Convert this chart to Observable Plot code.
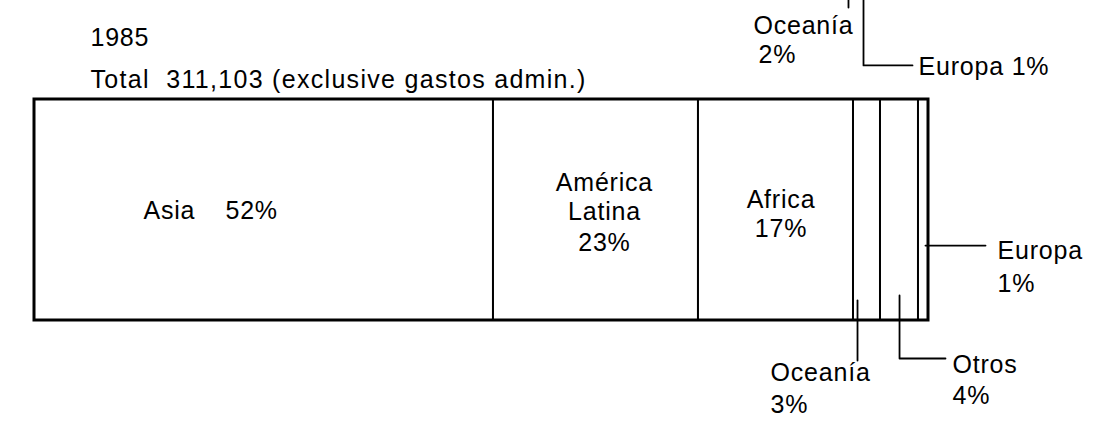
<!DOCTYPE html>
<html><head><meta charset="utf-8">
<script src="https://cdn.jsdelivr.net/npm/d3@7"></script>
<script src="https://cdn.jsdelivr.net/npm/@observablehq/plot@0.6"></script>
<style>html,body{margin:0;padding:0;background:#fff}</style>
</head><body><div id="chart"></div>
<script>
// ---- data ----
const year = "1985";
const totalLine = "Total\u00a0 311,103 (exclusive gastos admin.)";
const regions = ["Asia", "América Latina", "Africa", "Oceanía", "Otros", "Europa"];
const shares = [51.34, 22.93, 17.34, 3.02, 4.25, 1.12]; // share of bar width (%)
const pctLabels = ["52%", "23%", "17%", "3%", "4%", "1%"];
// labels from the (cut-off) chart above
const aboveLabels = ["Oceanía", "2%", "Europa 1%"];

const table = regions.map((r, i) => ({region: r, share: shares[i], pct: pctLabels[i]}));

// ---- annotation layout (in scale units: x = % of bar, y = 0 bottom .. 1 top of bar) ----
const texts = [
  {t: year, x: 6.26, y: 1.244, a: "start"},
  {t: totalLine, x: 6.26, y: 1.054, a: "start"},
  {t: regions[0], x: 12.19, y: 0.4615, a: "start"},
  {t: pctLabels[0], x: 21.36, y: 0.4615, a: "start"},
  {t: "América", x: 63.75, y: 0.588, a: "middle"},
  {t: "Latina", x: 63.75, y: 0.4525, a: "middle"},
  {t: pctLabels[1], x: 63.75, y: 0.3167, a: "middle"},
  {t: regions[2], x: 83.5, y: 0.511, a: "middle"},
  {t: pctLabels[2], x: 83.5, y: 0.3756, a: "middle"},
  {t: regions[3], x: 82.33, y: -0.2715, a: "start"},
  {t: pctLabels[3], x: 82.33, y: -0.4208, a: "start"},
  {t: regions[4], x: 102.68, y: -0.2353, a: "start"},
  {t: pctLabels[4], x: 102.68, y: -0.3756, a: "start"},
  {t: regions[5], x: 107.72, y: 0.2805, a: "start"},
  {t: pctLabels[5], x: 107.72, y: 0.1267, a: "start"},
  {t: aboveLabels[0], x: 91.61, y: 1.2986, a: "end"},
  {t: aboveLabels[1], x: 80.98, y: 1.167, a: "start"},
  {t: aboveLabels[2], x: 98.88, y: 1.1086, a: "start"}
];
const leaders = [
  {id: "oce", pts: [[92.06, 0.0905], [92.06, -0.181]]},
  {id: "otr", pts: [[96.76, 0.1131], [96.76, -0.172], [101.9, -0.172]]},
  {id: "eur", pts: [[99.66, 0.339], [106.38, 0.339]]},
  {id: "topEur", pts: [[92.73, 1.46], [92.73, 1.154], [98.21, 1.154]]},
  {id: "topTick", pts: [[91.05, 1.46], [91.05, 1.416]]}
];
const leaderPts = leaders.flatMap(l => l.pts.map(([x, y]) => ({id: l.id, x, y})));

const textMark = (anchor) => Plot.text(texts.filter(d => d.a === anchor), {
  x: "x", y: "y", text: "t", textAnchor: anchor, lineAnchor: "bottom", fontSize: 25, fill: "black"
});

const chart = Plot.plot({
  width: 1100,
  height: 428,
  margin: 0,
  x: {domain: [0, 100], range: [34, 928], axis: null},
  y: {domain: [0, 1], range: [320, 99], axis: null},
  style: {fontFamily: "'Liberation Sans', Arial, sans-serif", background: "#fff", color: "#000", letterSpacing: "0.8px"},
  marks: [
    Plot.rectX(table, Plot.stackX({x: "share", y1: 0, y2: 1, order: null, fill: "white", stroke: "black", strokeWidth: 2})),
    Plot.rect([0], {x1: 0, x2: 100, y1: 0, y2: 1, fill: "none", stroke: "black", strokeWidth: 3}),
    Plot.line(leaderPts, {x: "x", y: "y", z: "id", stroke: "black", strokeWidth: 1.8, curve: "linear"}),
    textMark("start"),
    textMark("middle"),
    textMark("end")
  ]
});
chart.querySelectorAll("text").forEach(el => {
  if (el.textContent === totalLine) el.style.letterSpacing = "1.3px";
});
document.getElementById("chart").append(chart);
</script>
</body></html>
